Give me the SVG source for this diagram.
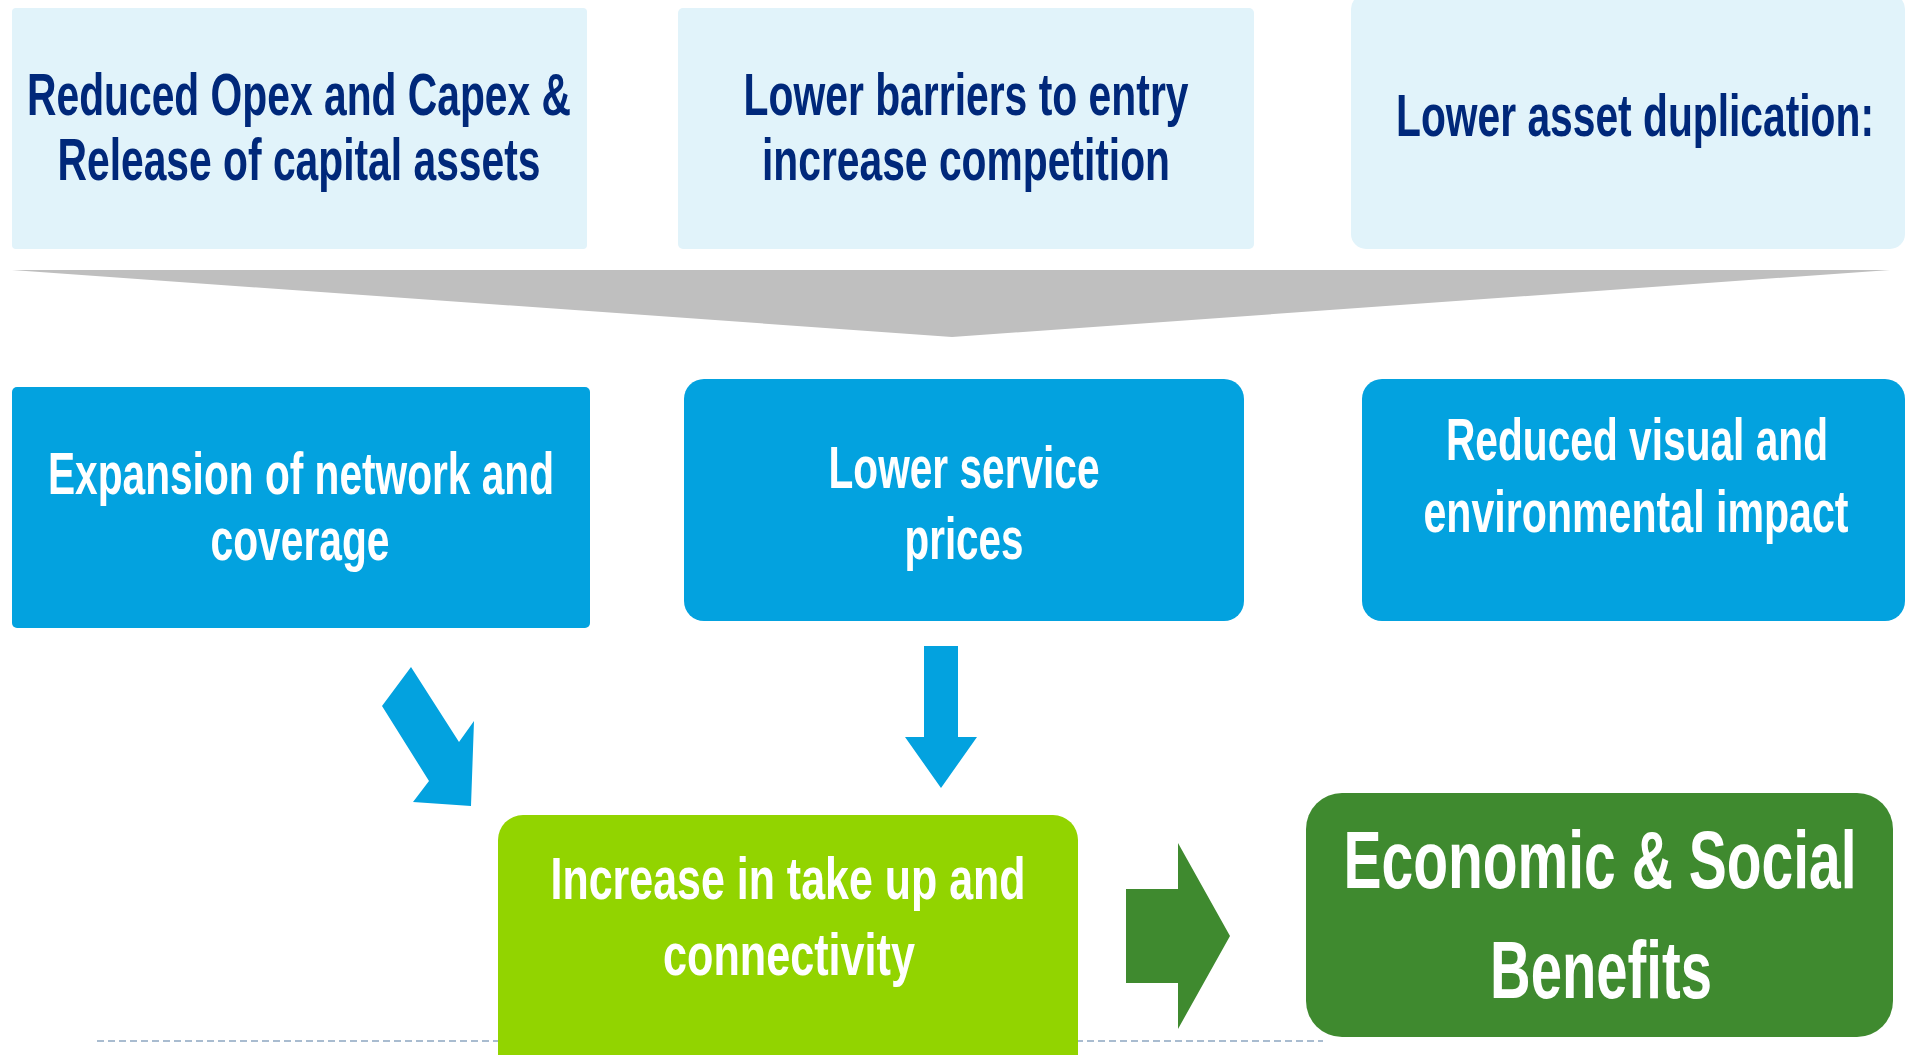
<svg xmlns="http://www.w3.org/2000/svg" width="1905" height="1055" viewBox="0 0 1905 1055">
<style>
.lb{fill:#E1F3FA}
.bb{fill:#03A2DF}
.t{font-family:"Liberation Sans",Arial,sans-serif;font-weight:bold;text-anchor:middle}
.navy{fill:#00287A;font-size:60px}
.wh{fill:#FFFFFF;font-size:60px}
.big{fill:#FFFFFF;font-size:81px}
.arr{fill:#03A2DF}
</style>
<rect width="1905" height="1055" fill="#FFFFFF"/>
<g id="connectors">
<polygon id="banner" points="12,270 1890,270 952,337" fill="#BFBFBF"/>
<line x1="97" y1="1041" x2="1323" y2="1041" stroke="#A9BCD0" stroke-width="2" stroke-dasharray="7,4"/>
<polygon class="arr" points="411,667 459,742 474,721 471,806 413,802 429,781 382,706"/>
<polygon class="arr" points="924,646 958,646 958,737 977,737 941,788 905,737 924,737"/>
<polygon fill="#3F8A2F" points="1126,889 1178,889 1178,843 1230,936 1178,1029 1178,983 1126,983"/>
</g>
<g id="node-opex">
<rect class="lb" x="12" y="8" width="575" height="241" rx="4"/>
<text class="t navy" transform="translate(299,115) scale(0.72,1)" textLength="755.6" lengthAdjust="spacingAndGlyphs">Reduced Opex and Capex &amp;</text>
<text class="t navy" transform="translate(299,180) scale(0.72,1)" textLength="670.8" lengthAdjust="spacingAndGlyphs">Release of capital assets</text>
</g>
<g id="node-barriers">
<rect class="lb" x="678" y="8" width="576" height="241" rx="5"/>
<text class="t navy" transform="translate(966,115) scale(0.72,1)" textLength="618.1" lengthAdjust="spacingAndGlyphs">Lower barriers to entry</text>
<text class="t navy" transform="translate(966,180) scale(0.72,1)" textLength="566.7" lengthAdjust="spacingAndGlyphs">increase competition</text>
</g>
<g id="node-duplication">
<rect class="lb" x="1351" y="-6" width="554" height="255" rx="15"/>
<text class="t navy" transform="translate(1635,136) scale(0.72,1)" textLength="663.9" lengthAdjust="spacingAndGlyphs">Lower asset duplication:</text>
</g>
<g id="node-expansion">
<rect class="bb" x="12" y="387" width="578" height="241" rx="5"/>
<text class="t wh" transform="translate(301,494) scale(0.72,1)" textLength="702.8" lengthAdjust="spacingAndGlyphs">Expansion of network and</text>
<text class="t wh" transform="translate(300,560) scale(0.72,1)" textLength="248.6" lengthAdjust="spacingAndGlyphs">coverage</text>
</g>
<g id="node-prices">
<rect class="bb" x="684" y="379" width="560" height="242" rx="20"/>
<text class="t wh" transform="translate(964,488) scale(0.72,1)" textLength="376.4" lengthAdjust="spacingAndGlyphs">Lower service</text>
<text class="t wh" transform="translate(964,559) scale(0.72,1)" textLength="165.3" lengthAdjust="spacingAndGlyphs">prices</text>
</g>
<g id="node-environment">
<rect class="bb" x="1362" y="379" width="543" height="242" rx="20"/>
<text class="t wh" transform="translate(1637,460) scale(0.72,1)" textLength="530.6" lengthAdjust="spacingAndGlyphs">Reduced visual and</text>
<text class="t wh" transform="translate(1636,532) scale(0.72,1)" textLength="590.3" lengthAdjust="spacingAndGlyphs">environmental impact</text>
</g>
<g id="node-takeup">
<rect x="498" y="815" width="580" height="270" rx="25" fill="#92D400"/>
<text class="t wh" font-size="62" transform="translate(788,899) scale(0.72,1)" textLength="659.7" lengthAdjust="spacingAndGlyphs">Increase in take up and</text>
<text class="t wh" font-size="62" transform="translate(789,975) scale(0.72,1)" textLength="350" lengthAdjust="spacingAndGlyphs">connectivity</text>
</g>
<g id="node-benefits">
<rect x="1306" y="793" width="587" height="244" rx="36" fill="#3F8A2F"/>
<text class="t big" transform="translate(1600,888) scale(0.72,1)" textLength="712.5" lengthAdjust="spacingAndGlyphs">Economic &amp; Social</text>
<text class="t big" transform="translate(1601,998) scale(0.72,1)" textLength="308.3" lengthAdjust="spacingAndGlyphs">Benefits</text>
</g>
</svg>
